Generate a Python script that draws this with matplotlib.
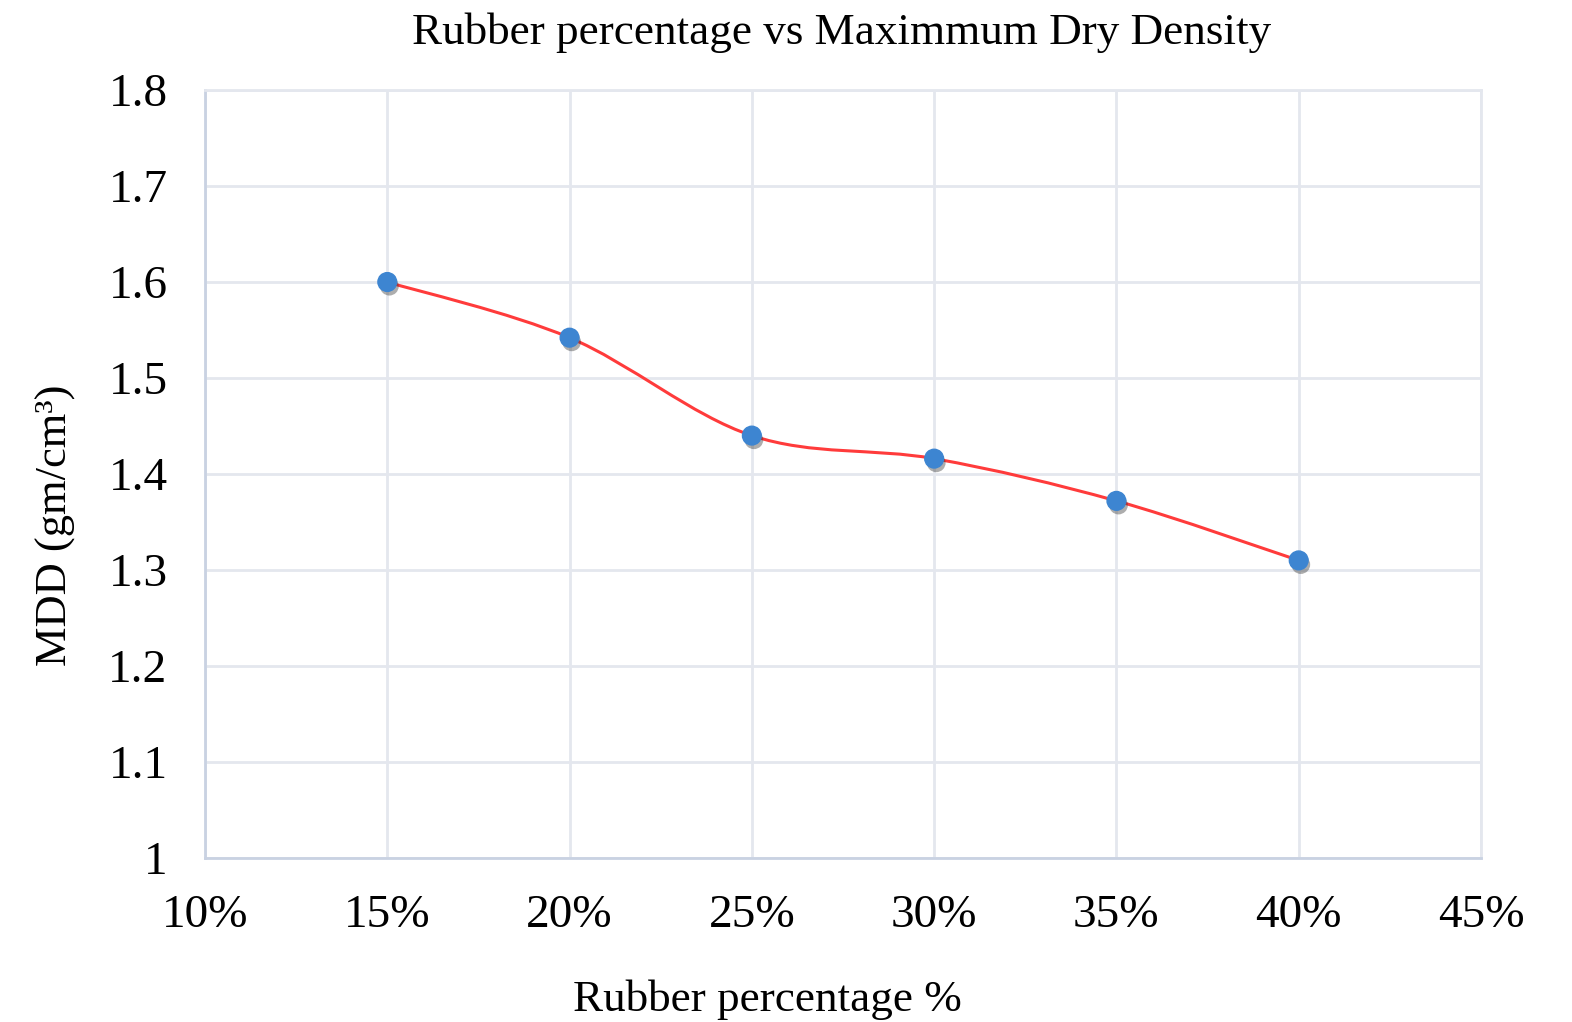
import numpy as np
import matplotlib.pyplot as plt
from matplotlib.path import Path
from matplotlib.patches import PathPatch
import matplotlib.patheffects as pe
from matplotlib.ticker import FuncFormatter

rubber = [0.15, 0.20, 0.25, 0.30, 0.35, 0.40]
mdd = [1.60, 1.542, 1.44, 1.416, 1.372, 1.31]

plt.rcParams['font.family'] = ['Liberation Serif', 'DejaVu Serif']

fig = plt.figure(figsize=(15.72, 10.22), dpi=100)
ax = fig.add_axes([205/1572, 1-858/1022, (1481-205)/1572, (858-90)/1022])

# smooth line through the points, cubic bezier segments (catmull-rom style)
x = np.array(rubber)
y = np.array(mdd)
n = len(x)
verts = [(x[0], y[0])]
codes = [Path.MOVETO]
for i in range(n-1):
	p0 = np.array([x[max(i-1, 0)], y[max(i-1, 0)]])
	p1 = np.array([x[i], y[i]])
	p2 = np.array([x[i+1], y[i+1]])
	p3 = np.array([x[min(i+2, n-1)], y[min(i+2, n-1)]])
	c1 = p1 + (p2 - p0) / 6
	c2 = p2 - (p3 - p1) / 6
	verts += [tuple(c1), tuple(c2), tuple(p2)]
	codes += [Path.CURVE4]*3
ax.add_patch(PathPatch(Path(verts, codes), facecolor='none', edgecolor='#ff3b3b', lw=2.2, zorder=3))

ax.plot(rubber, mdd, 'o', ms=13.5, color='#3d85d1', mec='#3d85d1', zorder=4,
	path_effects=[pe.SimplePatchShadow(offset=(1.5, -3), alpha=0.4, shadow_rgbFace='#333333'), pe.Normal()])

ax.set_xlim(0.10, 0.45)
ax.set_ylim(1.0, 1.8)
ax.set_xticks(np.arange(0.10, 0.451, 0.05))
ax.set_yticks(np.arange(1.0, 1.81, 0.1))
ax.xaxis.set_major_formatter(FuncFormatter(lambda v, p: '%d%%' % round(v*100)))
ax.yaxis.set_major_formatter(FuncFormatter(lambda v, p: '1' if abs(v-1) < 1e-9 else '%.1f' % v))
ax.grid(True, color='#e4e7ee', lw=2)
ax.set_axisbelow(True)
for s in ['top', 'right']:
	ax.spines[s].set_color('#e4e7ee')
	ax.spines[s].set_linewidth(2)
for s in ['left', 'bottom']:
	ax.spines[s].set_color('#c9d2e2')
	ax.spines[s].set_linewidth(2)
ax.tick_params(length=0, labelsize=34)
ax.tick_params(axis='y', pad=27)
ax.tick_params(axis='x', pad=26)

fig.text(842/1572, 1-33/1022, 'Rubber percentage vs Maximmum Dry Density', fontsize=32.5,
	ha='center', va='center')
fig.text(767/1572, 1-1000/1022, 'Rubber percentage %', fontsize=32.5, ha='center', va='center')
fig.text(56/1572, 1-525/1022, 'MDD (gm/cm\u00b3)', fontsize=32, ha='center', va='center',
	rotation=90)

plt.savefig('out.png', dpi=100)
